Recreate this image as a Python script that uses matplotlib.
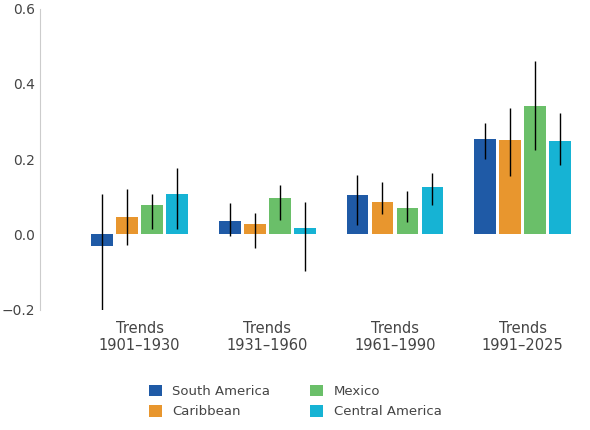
import matplotlib.pyplot as plt
import numpy as np

periods = ["Trends\n1901–1930", "Trends\n1931–1960", "Trends\n1961–1990", "Trends\n1991–2025"]
regions = ["South America", "Caribbean", "Mexico", "Central America"]
colors = ["#1f5aa6", "#e8962e", "#6abf69", "#16b3d4"]
values = {
    "South America": [-0.032, 0.036, 0.104, 0.254],
    "Caribbean": [0.047, 0.028, 0.087, 0.250],
    "Mexico": [0.078, 0.097, 0.071, 0.340],
    "Central America": [0.107, 0.018, 0.125, 0.248],
}
err_low = {
    "South America": [-0.21, -0.005, 0.024, 0.200],
    "Caribbean": [-0.028, -0.035, 0.053, 0.156],
    "Mexico": [0.013, 0.037, 0.032, 0.225],
    "Central America": [0.013, -0.098, 0.077, 0.185],
}
err_high = {
    "South America": [0.106, 0.082, 0.159, 0.297],
    "Caribbean": [0.12, 0.058, 0.138, 0.337],
    "Mexico": [0.106, 0.13, 0.114, 0.46],
    "Central America": [0.177, 0.085, 0.164, 0.323],
}

fig = plt.figure(figsize=(5.9, 4.3), dpi=100)
ax = fig.add_axes([0.068, 0.28, 0.915, 0.70])
x = np.arange(len(periods))
w = 0.196
for i, r in enumerate(regions):
    xs = x + (i - 1.5) * w
    ax.bar(xs, values[r], width=0.17, color=colors[i], label=r, zorder=2)
    ax.vlines(xs, err_low[r], err_high[r], color="black", lw=1, zorder=3)

ax.set_ylim(-0.2, 0.6)
ax.set_xlim(-0.78, 3.45)
ax.set_yticks([-0.2, 0.0, 0.2, 0.4, 0.6])
ax.set_yticklabels(["−0.2", "0.0", "0.2", "0.4", "0.6"])
ax.set_xticks(x)
ax.set_xticklabels(periods, fontsize=10.5, color="#444444")
ax.tick_params(axis="x", length=0, pad=8)
ax.tick_params(axis="y", length=0, labelsize=10, colors="#444444")
ax.set_ylabel("Trend (ºC/decade)", fontsize=10, color="#444444", labelpad=2)
for s in ["top", "right", "bottom"]:
    ax.spines[s].set_visible(False)
ax.spines["left"].set_color("#cccccc")

handles, labels = ax.get_legend_handles_labels()
fig.legend(handles, labels, ncol=2, loc="lower center", bbox_to_anchor=(0.5, 0.0),
           frameon=False, fontsize=9.5, handlelength=1.0, handleheight=1.0,
           columnspacing=3, labelcolor="#444444")
fig.savefig("out.png", dpi=100)
